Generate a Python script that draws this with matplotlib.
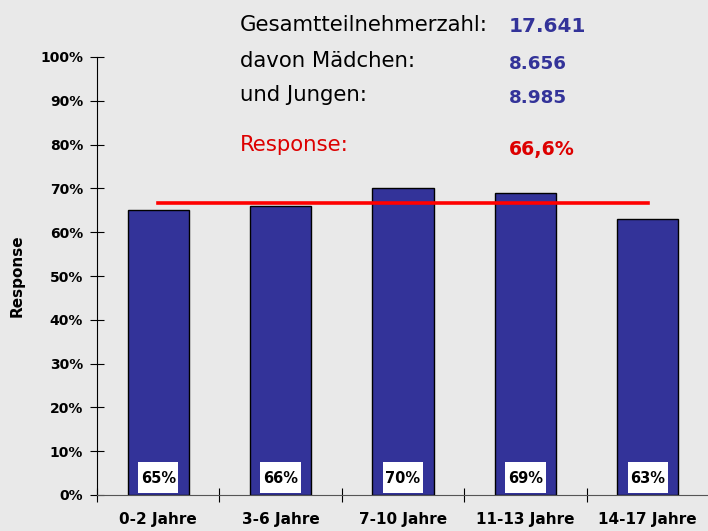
import matplotlib
matplotlib.use("Agg")
import matplotlib.pyplot as plt
from matplotlib.patches import Rectangle
import numpy as np

categories = ["0-2 Jahre", "3-6 Jahre", "7-10 Jahre", "11-13 Jahre", "14-17 Jahre"]
values = [65, 66, 70, 69, 63]
overall = 66.6
yticks = [0, 10, 20, 30, 40, 50, 60, 70, 80, 90, 100]
info_labels = ["Gesamtteilnehmerzahl:", "davon Mädchen:", "und Jungen:"]
info_values = ["17.641", "8.656", "8.985"]

plt.rcParams['font.family'] = ['DejaVu Sans']
bg = '#e9e9e9'
fig = plt.figure(figsize=(7.08, 5.31), dpi=100, facecolor=bg)
ax = fig.add_axes([97/708, 1-495/531, 612/708, (495-57)/531])
ax.set_facecolor(bg)

x = np.arange(len(categories))
ax.bar(x, values, width=0.5, color='#333399', edgecolor='black', linewidth=1.0, zorder=2)
for xi, v in zip(x, values):
    ax.add_patch(Rectangle((xi - 0.165, 0.5), 0.33, 7.0, facecolor='white', edgecolor='none', zorder=3))
    ax.text(xi, 3.8, f"{v}%", ha='center', va='center', fontsize=10.5, fontweight='bold', zorder=4)
ax.plot([x[0], x[-1]], [overall, overall], color='#ff0000', linewidth=2.6, zorder=5)

ax.set_xlim(-0.5, len(categories) - 0.5)
ax.set_ylim(0, 100)
ax.set_yticks(yticks)
ax.set_yticklabels([f"{t}%" for t in yticks], fontsize=10, fontweight='bold')
ax.set_xticks(np.arange(len(categories) + 1) - 0.5)
ax.set_xticklabels([])
ax.set_xticks(x, minor=True)
ax.set_xticklabels(categories, minor=True, fontsize=11, fontweight='bold')
ax.tick_params(axis='x', which='minor', length=0, pad=12)
ax.tick_params(axis='x', which='major', direction='inout', length=10, width=0.8)
ax.tick_params(axis='y', direction='inout', length=10, width=0.8, pad=5)
for s in ['top', 'right']:
    ax.spines[s].set_visible(False)
ax.spines['left'].set_linewidth(0.8)
ax.spines['bottom'].set_linewidth(0.8)
ax.spines['bottom'].set_color('#555555')
ax.set_ylabel("Response", fontsize=11, fontweight='bold')
ax.yaxis.set_label_coords(-(97 - 25) / 612, (495 - 276) / 438)

# info texts
label_y = [25, 61, 95]
value_y = [27, 64, 98]
value_sizes = [14.4, 13.2, 13.2]
for lab, val, ly, vy, vs in zip(info_labels, info_values, label_y, value_y, value_sizes):
    fig.text(240/708, 1-ly/531, lab, fontsize=15.3, va='center', ha='left', color='black')
    fig.text(509/708, 1-vy/531, val, fontsize=vs, fontweight='bold', va='center', ha='left', color='#333399')
fig.text(240/708, 1-145/531, "Response:", fontsize=15.3, va='center', ha='left', color='#dd0000')
fig.text(509/708, 1-149/531, f"{overall:.1f}%".replace('.', ','), fontsize=13.7, fontweight='bold',
         va='center', ha='left', color='#dd0000')

fig.savefig("out.png", dpi=100, facecolor=bg)
